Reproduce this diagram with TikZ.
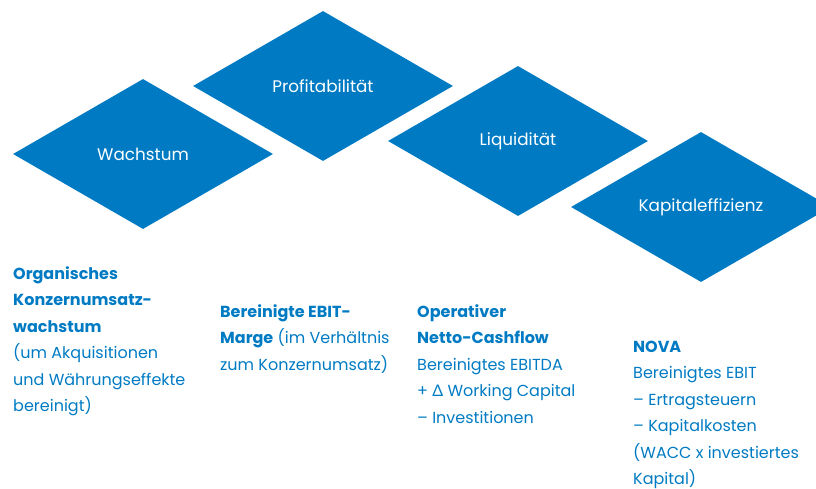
\documentclass[tikz,border=0pt]{standalone}
\usepackage{fontspec}
\setmainfont{Poppins}
\newfontfamily\deltafont{Lato}
\usetikzlibrary{shapes.geometric}
\definecolor{kpiblau}{RGB}{0,123,195}
\begin{document}
\begin{tikzpicture}[x=1pt,y=-1pt,line join=round,font=\fontsize{16}{26.5}\selectfont]
\tikzset{raute/.style={shape=diamond,fill=kpiblau,text=white,minimum width=260pt,minimum height=150pt,inner sep=0pt,font=\fontsize{16.8}{20}\selectfont},
kennzahl/.style={anchor=base west,align=left,text=kpiblau,inner sep=0pt}}
\def \breite{816};
\def \hoehe{489};
\def \zeile{26.5};
\useasboundingbox (0,0) rectangle (\breite,\hoehe);
\clip (0,0) rectangle (\breite,\hoehe);
\foreach \x/\y/\l/\n in {143/154/Wachstum/wachstum,323/86/Profitabilität/profit,518/141/Liquidität/liqui,701/207/Kapitaleffizienz/kapital}{\node[raute] (\n) at (\x,\y) {\l};}
% base anchor = baseline of the last line
\node[kennzahl] (organisch) at (13,279+5*\zeile) {\textbf{Organisches}\\\textbf{Konzernumsatz-}\\\textbf{wachstum}\\(um Akquisitionen\\und Währungseffekte\\bereinigt)};
\node[kennzahl] (marge) at (220,317+2*\zeile) {\textbf{Bereinigte EBIT-}\\\textbf{Marge} (im Verhältnis\\zum Konzernumsatz)};
\node[kennzahl] (cashflow) at (417,317+4*\zeile) {\textbf{Operativer}\\\textbf{Netto-Cashflow}\\Bereinigtes EBITDA\\+ {\deltafont Δ} Working Capital\\– Investitionen};
\node[kennzahl] (nova) at (633,352+5*\zeile) {\textbf{NOVA}\\Bereinigtes EBIT\\– Ertragsteuern\\– Kapitalkosten\\(WACC x investiertes\\Kapital)};
\end{tikzpicture}
\end{document}
